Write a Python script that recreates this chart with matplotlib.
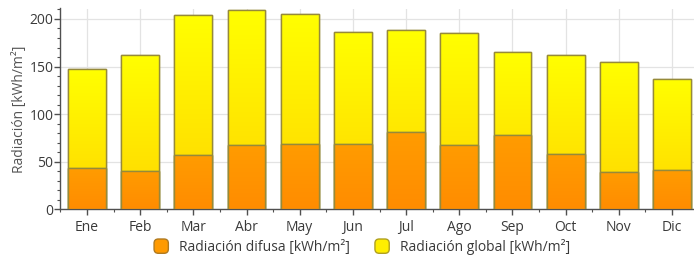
import matplotlib
matplotlib.use("Agg")
import matplotlib.pyplot as plt
import numpy as np
from matplotlib.patches import FancyBboxPatch, Patch
from matplotlib.legend_handler import HandlerPatch
from matplotlib.colors import LinearSegmentedColormap
from matplotlib.ticker import MultipleLocator, FixedLocator

months = ["Ene", "Feb", "Mar", "Abr", "May", "Jun", "Jul", "Ago", "Sep", "Oct", "Nov", "Dic"]
global_rad = [147, 162, 204, 209, 205, 186, 188, 185, 165, 162, 155, 137]
diffuse_rad = [43, 40, 57, 68, 69, 69, 81, 68, 78, 58, 39, 41]

plt.rcParams['font.family'] = ['Open Sans', 'DejaVu Sans']

W, H = 694, 258
fig = plt.figure(figsize=(W / 100, H / 100), dpi=100)
left_px, right_px, bottom_px, top_px = 60.4, 698.6, 209.3, 8.5
ax = fig.add_axes([left_px / W, (H - bottom_px) / H, (right_px - left_px) / W, (bottom_px - top_px) / H])

x = np.arange(len(months))
ax.set_xlim(-0.5, len(months) - 0.5)
ax.set_ylim(0, 211)

edge = "#968a3a"
bw = 0.71
gbars = ax.bar(x, global_rad, width=bw, color="#ffee00", edgecolor=edge, linewidth=1.0, zorder=2)
dbars = ax.bar(x, diffuse_rad, width=bw, color="#ff9a00", edgecolor=edge, linewidth=1.0, zorder=4)

ycmap = LinearSegmentedColormap.from_list("y", ["#ffd600", "#ffff00"])
ocmap = LinearSegmentedColormap.from_list("o", ["#ff8c00", "#ff9c00"])
grad = np.linspace(0, 1, 256).reshape(-1, 1)
for b, v in zip(gbars, global_rad):
    x0 = b.get_x()
    im = ax.imshow(grad, cmap=ycmap, origin="lower", aspect="auto",
                   extent=[x0, x0 + b.get_width(), 0, v], zorder=2.5)
    im.set_clip_path(b)
for b, v in zip(dbars, diffuse_rad):
    x0 = b.get_x()
    im = ax.imshow(grad, cmap=ocmap, origin="lower", aspect="auto",
                   extent=[x0, x0 + b.get_width(), 0, v], zorder=4.5)
    im.set_clip_path(b)
# redraw edges on top
ax.bar(x, global_rad, width=bw, fill=False, edgecolor=edge, linewidth=1.0, zorder=3)
ax.bar(x, diffuse_rad, width=bw, fill=False, edgecolor=edge, linewidth=1.0, zorder=5)

ax.set_xticks(x)
ax.set_xticklabels(months)
ax.xaxis.set_minor_locator(FixedLocator(np.arange(-0.5, len(months), 1.0)))
ax.yaxis.set_major_locator(MultipleLocator(50))
ax.yaxis.set_minor_locator(MultipleLocator(10))

ax.grid(True, which="major", color="#e3e3e3", linewidth=0.9, zorder=0)
ax.set_axisbelow(True)

for s in ["top", "right"]:
    ax.spines[s].set_visible(False)
for s in ["left", "bottom"]:
    ax.spines[s].set_color("#505050")
    ax.spines[s].set_linewidth(1.0)

ax.tick_params(axis="both", which="major", labelsize=10, colors="#505050", labelcolor="#3a3a3a", length=4, width=1)
ax.tick_params(axis="both", which="minor", colors="#505050", length=2, width=0.8)
ax.tick_params(axis="x", which="major", pad=4)
ax.tick_params(axis="y", which="major", pad=1)

ax.set_ylabel("Radiación [kWh/m²]", fontsize=10, color="#555555", labelpad=2)


class RoundHandler(HandlerPatch):
    def create_artists(self, legend, orig_handle, xdescent, ydescent, width, height, fontsize, trans):
        s = min(width, height) * 1.15
        cx = -xdescent + width / 2
        cy = -ydescent + height / 2
        p = FancyBboxPatch((cx - s / 2, cy - s / 2), s, s,
                           boxstyle=f"round,pad=0,rounding_size={s*0.3}",
                           facecolor=orig_handle.get_facecolor(), edgecolor=orig_handle.get_edgecolor(),
                           linewidth=1.0, transform=trans)
        return [p]


handles = [Patch(facecolor="#ff9a00", edgecolor="#b07a20", label="Radiación difusa [kWh/m²]"),
           Patch(facecolor="#ffee00", edgecolor="#b0a020", label="Radiación global [kWh/m²]")]
fig.legend(handles=handles, loc="center", bbox_to_anchor=(0.522, 0.043), ncol=2, frameon=False,
           fontsize=10, handler_map={Patch: RoundHandler()}, handlelength=1.0, handleheight=1.0,
           handletextpad=0.8, columnspacing=1.8, labelcolor="#3a3a3a")

fig.savefig("out.png", dpi=100)
